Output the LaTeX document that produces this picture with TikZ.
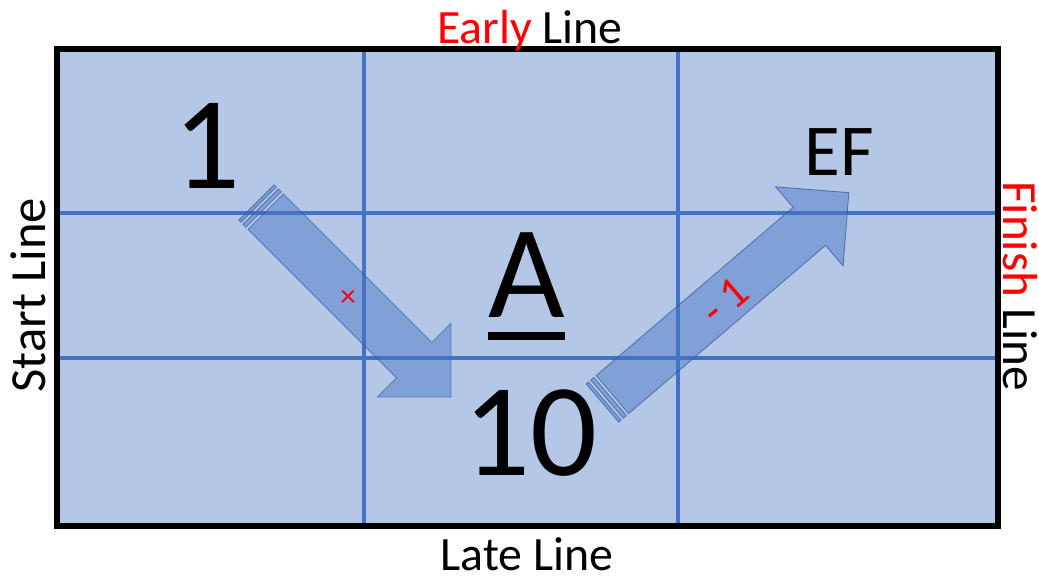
\documentclass[tikz,border=0pt]{standalone}
\usepackage{fontspec}
\setmainfont{Carlito}
\definecolor{boxfill}{HTML}{B4C7E7}
\definecolor{gridblue}{HTML}{4472C4}
\definecolor{arrowline}{HTML}{2F5597}
\definecolor{redtxt}{HTML}{FF0000}
\tikzset{
  gridline/.style={draw=gridblue, line width=2.8pt},
  frameline/.style={draw=black, line width=4.3pt},
  blockarrow/.style={fill=gridblue, fill opacity=0.45, draw=arrowline, draw opacity=0.7, line width=0.6pt, line join=miter},
  label/.style={font=\fontsize{34}{40}\selectfont, inner sep=0pt, anchor=base},
  bignum/.style={font=\fontsize{94}{110}\selectfont, inner sep=0pt, anchor=base},
}
\begin{document}
\begin{tikzpicture}[x=0.025cm,y=-0.025cm]
\useasboundingbox (0,0) rectangle (1039,580);
% box
\fill[boxfill] (57,49) rectangle (998,526);
% grid
\draw[gridline] (364,49) -- (364,526);
\draw[gridline] (678,49) -- (678,526);
\draw[gridline] (57,213) -- (998,213);
\draw[gridline] (57,358) -- (998,358);
% arrow 1 (down-right)
\begin{scope}[shift={(256.5,202.5)}, rotate=-45]
  \filldraw[blockarrow] (0,-25) rectangle (3,25);
  \filldraw[blockarrow] (6,-25) rectangle (10,25);
  \filldraw[blockarrow] (13,-25) -- (223,-25) -- (223,-52) -- (275,0) -- (223,52) -- (223,25) -- (13,25) -- cycle;
\end{scope}
% arrow 2 (up-right)
\begin{scope}[shift={(602.5,403)}, rotate=40.5]
  \filldraw[blockarrow] (0,-25) rectangle (3,25);
  \filldraw[blockarrow] (6,-25) rectangle (10,25);
  \filldraw[blockarrow] (13,-25) -- (272,-25) -- (272,-52) -- (324,0) -- (272,52) -- (272,25) -- (13,25) -- cycle;
\end{scope}
% frame
\draw[frameline] (57,49) rectangle (998,526);
% texts
\node[label] (early) at (530,43) {\textcolor{redtxt}{Early} Line};
\node[label] (late) at (527,570) {Late Line};
\node[label, font=\fontsize{36}{42}\selectfont, rotate=90] (start) at (45,295) {Start Line};
\node[label, font=\fontsize{35}{41}\selectfont, rotate=-90] (finish) at (1003,286) {\textcolor{redtxt}{Finish} Line};
\node[bignum] (one) at (207,188) {1};
\node[bignum] (act) at (527,317) {A};
\draw[line width=5pt] (488,336) -- (565,336);
\node[bignum] (ten) at (530,475) {10};
\node[font=\fontsize{52}{60}\selectfont, inner sep=0pt, anchor=base] (ef) at (839,175) {EF};
\node[font=\fontsize{22}{26}\selectfont, text=redtxt, inner sep=0pt] (cross) at (348,298) {×};
\node[font=\fontsize{32}{38}\selectfont, text=redtxt, inner sep=0pt, rotate=40.5] (lag) at (725,301) {- 1};
\end{tikzpicture}
\end{document}
